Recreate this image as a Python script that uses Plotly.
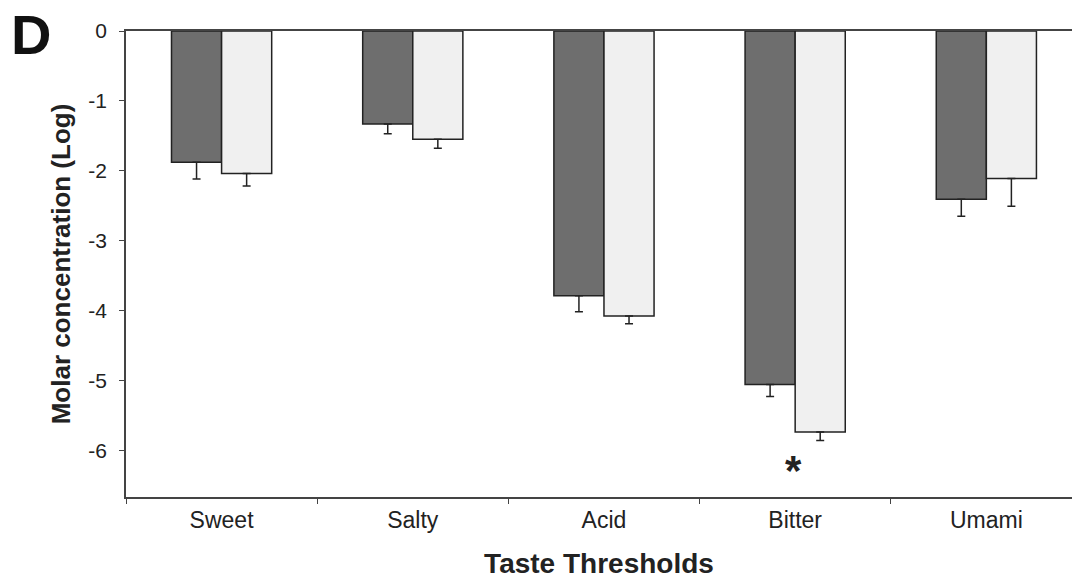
import plotly.graph_objects as go

categories = ["Sweet", "Salty", "Acid", "Bitter", "Umami"]
group_a = [-1.88, -1.33, -3.79, -5.06, -2.41]
group_a_err = [0.24, 0.14, 0.23, 0.17, 0.24]
group_b = [-2.04, -1.55, -4.08, -5.74, -2.11]
group_b_err = [0.18, 0.13, 0.11, 0.12, 0.40]
y_ticks = [0, -1, -2, -3, -4, -5, -6]

FONT = "Liberation Sans, Arial, Helvetica, sans-serif"
INK = "#222222"

fig = go.Figure()
fig.add_trace(go.Bar(
    x=categories, y=group_a, name="A",
    marker=dict(color="#6e6e6e", line=dict(color=INK, width=1.5)),
    error_y=dict(type="data", symmetric=False, array=[0] * 5, arrayminus=group_a_err,
                 color=INK, thickness=1.5, width=4),
))
fig.add_trace(go.Bar(
    x=categories, y=group_b, name="B",
    marker=dict(color="#f0f0f0", line=dict(color=INK, width=1.5)),
    error_y=dict(type="data", symmetric=False, array=[0] * 5, arrayminus=group_b_err,
                 color=INK, thickness=1.5, width=4),
))

fig.add_annotation(x="Bitter", y=-6.16, text="<b>*</b>", showarrow=False,
                   xshift=-2, yshift=-9, font=dict(size=42, color=INK, family=FONT))
fig.add_annotation(xref="paper", yref="paper", x=-0.124, y=1.065, xanchor="left", yanchor="top",
                   text="<b>D</b>", showarrow=False,
                   font=dict(size=56, color="#111111", family=FONT))

fig.update_layout(
    width=1072, height=579,
    margin=dict(l=126, r=0, t=31, b=80),
    plot_bgcolor="white", paper_bgcolor="white",
    showlegend=False,
    barmode="group", bargap=0.476, bargroupgap=0,
    font=dict(family=FONT, color=INK, size=20),
    xaxis=dict(
        range=[-0.5, 4.448],
        showline=True, linecolor="#444444", linewidth=1.5, mirror=True,
        ticks="outside", tickson="boundaries", ticklen=5, tickcolor="#444444", tickwidth=1,
        ticklabelstandoff=2,
        showgrid=False, zeroline=False,
        tickfont=dict(size=23, family=FONT, color=INK),
        title=dict(text="<b>Taste Thresholds</b>", font=dict(size=28, family=FONT, color=INK), standoff=26),
    ),
    yaxis=dict(
        range=[-6.67, 0],
        tickvals=y_ticks, ticktext=[str(v) for v in y_ticks],
        showline=True, linecolor="#444444", linewidth=1.5,
        ticks="outside", ticklen=5, tickcolor="#444444", tickwidth=1,
        ticklabelstandoff=8,
        showgrid=False, zeroline=False,
        tickfont=dict(size=21, family=FONT, color=INK),
        title=dict(text="<b>Molar concentration (Log)</b>", font=dict(size=26, family=FONT, color=INK), standoff=10),
    ),
)

fig.write_html("out.html")
